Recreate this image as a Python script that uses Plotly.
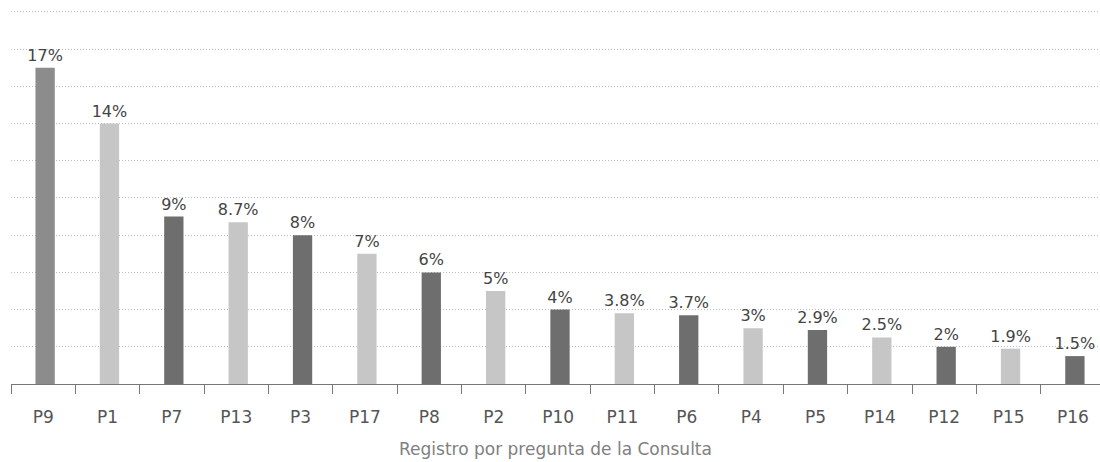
import plotly.graph_objects as go

# Registro por pregunta, ordenado de mayor a menor
preguntas = ["P9", "P1", "P7", "P13", "P3", "P17", "P8", "P2", "P10",
             "P11", "P6", "P4", "P5", "P14", "P12", "P15", "P16"]
porcentajes = [17, 14, 9, 8.7, 8, 7, 6, 5, 4, 3.8, 3.7, 3, 2.9, 2.5, 2, 1.9, 1.5]

MEDIO = "#8c8c8c"
CLARO = "#c6c6c6"
OSCURO = "#6e6e6e"
colores = [MEDIO] + [CLARO if i % 2 == 1 else OSCURO for i in range(1, len(preguntas))]

FUENTE = "'DejaVu Sans', sans-serif"

fig = go.Figure(
    go.Bar(
        x=preguntas,
        y=porcentajes,
        marker=dict(color=colores, line=dict(width=0)),
        width=0.3,
        offset=-0.12,
        text=[f"{v:g}%" for v in porcentajes],
        textposition="outside",
        constraintext="none",
        textfont=dict(family=FUENTE, size=16, color="#444444"),
        cliponaxis=False,
        hoverinfo="skip",
    )
)

fig.update_layout(
    width=1100,
    height=462,
    margin=dict(l=11, r=0, t=6, b=78),
    paper_bgcolor="white",
    plot_bgcolor="white",
    showlegend=False,
)

fig.update_xaxes(
    type="category",
    range=[-0.5, 16.42],
    tickson="boundaries",
    ticks="outside",
    ticklen=9,
    tickcolor="#777777",
    showline=True,
    linecolor="#777777",
    linewidth=1,
    showgrid=False,
    ticklabelstandoff=18,
    tickfont=dict(family=FUENTE, size=17, color="#555555"),
    title=dict(text="Registro por pregunta de la Consulta",
               font=dict(family=FUENTE, size=17, color="#808080"),
               standoff=16),
)

fig.update_yaxes(
    range=[0, 20.32],
    tickvals=[2, 4, 6, 8, 10, 12, 14, 16, 18, 20],
    showticklabels=False,
    showgrid=True,
    gridcolor="#bdbdbd",
    gridwidth=1,
    griddash="1px,2px",
    zeroline=False,
    showline=False,
)

fig.write_html("out.html")
